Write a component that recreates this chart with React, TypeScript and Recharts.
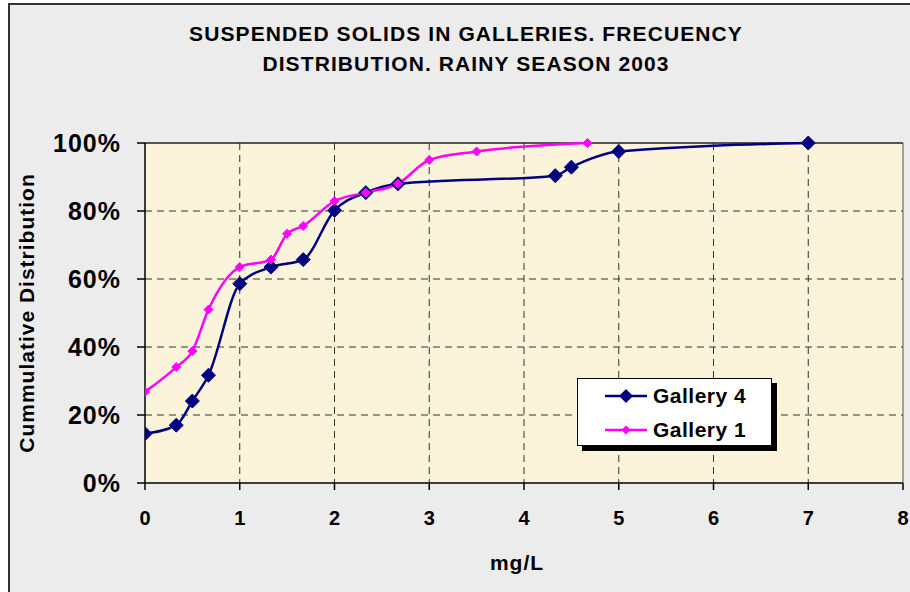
import React from "react";
import { LineChart, Line, XAxis, YAxis, CartesianGrid, ReferenceLine } from "recharts";

// mg/L concentrations and cumulative fractions
const g4X = [0, 0.33, 0.5, 0.67, 1, 1.33, 1.67, 2, 2.33, 2.67, 4.33, 4.5, 5, 7];
const g4Y = [0.145, 0.17, 0.241, 0.317, 0.586, 0.635, 0.657, 0.802, 0.854, 0.88, 0.904, 0.929, 0.975, 1];

const g1X = [0, 0.33, 0.5, 0.67, 1, 1.33, 1.5, 1.67, 2, 2.33, 2.67, 3, 3.5, 4.67];
const g1Y = [0.268, 0.341, 0.388, 0.51, 0.635, 0.657, 0.733, 0.756, 0.829, 0.854, 0.88, 0.95, 0.975, 1];

const xTicks = [0, 1, 2, 3, 4, 5, 6, 7, 8];
const yTicks = [0, 0.2, 0.4, 0.6, 0.8, 1];

const gallery4 = g4X.map((x, i) => ({ x, y: g4Y[i] }));
const gallery1 = g1X.map((x, i) => ({ x, y: g1Y[i] }));

const NAVY = "#000080";
const MAGENTA = "#ff00ff";
const FONT = "'Liberation Sans', Arial, sans-serif";

const Diamond = (r: number, fill: string) => (props: any) => {
  const { cx, cy, index } = props;
  if (cx == null || cy == null) return null;
  return (
    <polygon
      key={index}
      points={`${cx},${cy - r} ${cx + r},${cy} ${cx},${cy + r} ${cx - r},${cy}`}
      fill={fill}
      stroke={fill}
      strokeWidth={1}
    />
  );
};

const LegendRow = ({ color, r, label }: { color: string; r: number; label: string }) => (
  <div style={{ display: "flex", alignItems: "center", height: 34 }}>
    <svg width={50} height={20}>
      <line x1={4} y1={10} x2={46} y2={10} stroke={color} strokeWidth={2.5} />
      <polygon points={`25,${10 - r} ${25 + r},10 25,${10 + r} ${25 - r},10`} fill={color} />
    </svg>
    <span style={{ marginLeft: 2 }}>{label}</span>
  </div>
);

export default function App() {
  return (
    <div
      style={{
        position: "absolute",
        left: 8,
        top: 3,
        width: 902,
        height: 589,
        background: "#ececec",
        borderLeft: "2px solid #333",
        borderTop: "2px solid #333",
        boxSizing: "border-box",
        fontFamily: FONT,
        overflow: "hidden",
      }}
    >
      <div
        style={{
          position: "absolute",
          left: 0,
          width: 912,
          top: 14,
          textAlign: "center",
          fontWeight: "bold",
          fontSize: 21,
          letterSpacing: 1.1,
          lineHeight: "30px",
          color: "#000",
        }}
      >
        SUSPENDED SOLIDS IN GALLERIES. FRECUENCY
        <br />
        DISTRIBUTION. RAINY SEASON 2003
      </div>

      <div style={{ position: "absolute", left: -2, top: -2 }}>
        <LineChart width={902} height={589} margin={{ top: 140, right: 7, bottom: 69, left: 0 }}>
          <CartesianGrid
            stroke="#333"
            strokeDasharray="7 5"
            fill="#fcf4da"
            fillOpacity={1}
            verticalValues={[1, 2, 3, 4, 5, 6, 7]}
            horizontalValues={[0.2, 0.4, 0.6, 0.8]}
          />
          <ReferenceLine y={1} stroke="#222" strokeWidth={1.5} />
          <ReferenceLine x={8} stroke="#555" strokeWidth={1} />
          <XAxis
            type="number"
            dataKey="x"
            domain={[0, 8]}
            ticks={xTicks}
            interval={0}
            height={40}
            allowDataOverflow
            stroke="#000"
            strokeWidth={1.5}
            tickSize={7}
            tickMargin={21}
            tick={{ fill: "#000", fontSize: 20, fontWeight: "bold", fontFamily: FONT }}
          />
          <YAxis
            type="number"
            dataKey="y"
            domain={[0, 1]}
            ticks={yTicks}
            interval={0}
            width={137}
            stroke="#000"
            strokeWidth={1.5}
            tickSize={8}
            tickMargin={16}
            tickFormatter={(v: number) => `${Math.round(v * 100)}%`}
            tick={{ fill: "#000", fontSize: 25, fontWeight: "bold", fontFamily: FONT, letterSpacing: 1 }}
          />
          <Line
            data={gallery4}
            dataKey="y"
            type="monotone"
            stroke={NAVY}
            strokeWidth={2.5}
            dot={Diamond(7, NAVY)}
            activeDot={false}
            isAnimationActive={false}
          />
          <Line
            data={gallery1}
            dataKey="y"
            type="monotone"
            stroke={MAGENTA}
            strokeWidth={2.5}
            dot={Diamond(4.5, MAGENTA)}
            activeDot={false}
            isAnimationActive={false}
          />
        </LineChart>
      </div>

      <div
        style={{
          position: "absolute",
          left: 17,
          top: 308,
          transform: "translate(0, -50%) rotate(-90deg)",
          transformOrigin: "center",
          width: 0,
          display: "flex",
          justifyContent: "center",
          whiteSpace: "nowrap",
          fontWeight: "bold",
          fontSize: 21,
          letterSpacing: 1,
        }}
      >
        <span>Cummulative Distribution</span>
      </div>

      <div
        style={{
          position: "absolute",
          left: 407,
          width: 200,
          top: 546,
          textAlign: "center",
          fontWeight: "bold",
          fontSize: 21,
          letterSpacing: 1,
        }}
      >
        mg/L
      </div>

      <div
        style={{
          position: "absolute",
          left: 567,
          top: 373,
          width: 195,
          height: 68,
          background: "#fff",
          border: "1.5px solid #000",
          boxShadow: "5px 5px 0 #000",
          fontWeight: "bold",
          fontSize: 21,
          letterSpacing: 0.5,
          padding: "0 0 0 23px",
          boxSizing: "border-box",
        }}
      >
        <LegendRow color={NAVY} r={7} label="Gallery 4" />
        <LegendRow color={MAGENTA} r={4.5} label="Gallery 1" />
      </div>
    </div>
  );
}
